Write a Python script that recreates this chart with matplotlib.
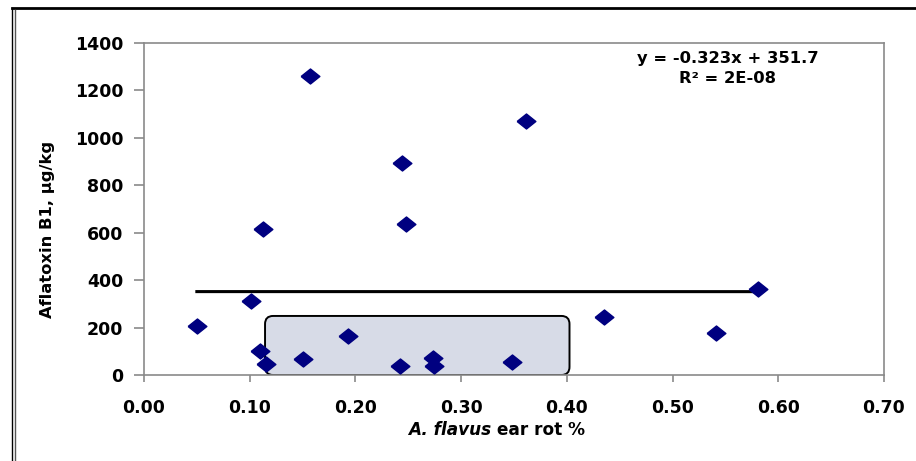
import matplotlib
matplotlib.use("Agg")
import matplotlib.pyplot as plt
import numpy as np
from matplotlib.lines import Line2D
from matplotlib.patches import FancyBboxPatch

# A. flavus ear rot % vs aflatoxin B1 (ug/kg)
ear_rot = [0.050, 0.101, 0.113, 0.110, 0.115, 0.150, 0.157, 0.193, 0.242,
           0.244, 0.248, 0.273, 0.274, 0.348, 0.361, 0.435, 0.541, 0.581]
aflatoxin = [207, 313, 617, 101, 46, 68, 1259, 165, 38,
             896, 638, 72, 38, 55, 1069, 245, 177, 363]

# linear trend shown on the chart
slope = -0.323
intercept = 351.7
r_squared_label = "R\u00b2 = 2E-08"

x_ticks = [0.0, 0.1, 0.2, 0.3, 0.4, 0.5, 0.6, 0.7]
y_ticks = [0, 200, 400, 600, 800, 1000, 1200, 1400]

plt.rcParams["font.family"] = ["DejaVu Sans"]
plt.rcParams["font.weight"] = "bold"

W, H = 916, 461
fig = plt.figure(figsize=(W / 100, H / 100), dpi=100)
ax = fig.add_axes([144 / W, 1 - 375 / H, 740 / W, 332 / H])

# highlighted region (rounded box)
box_x0, box_x1, box_y0, box_y1 = 0.1145, 0.4025, 0, 249
r = 0.0076
box = FancyBboxPatch(
    (box_x0, box_y0), box_x1 - box_x0, box_y1 - box_y0,
    boxstyle=f"round,pad=0,rounding_size={r}",
    mutation_aspect=34 / r,
    facecolor="#d7dbe7", edgecolor="black", linewidth=1.4, zorder=1,
)
ax.add_patch(box)

# trend line over the data range
xs = np.array([min(ear_rot), max(ear_rot)])
ax.plot(xs, slope * xs + intercept, color="black", linewidth=2.2, zorder=2)

diamond = [(-1, 0), (0, 0.8), (1, 0), (0, -0.8), (-1, 0)]
ax.plot(ear_rot, aflatoxin, linestyle="none", marker=diamond,
        markersize=13.5, color="#000080", zorder=3)

ax.set_xlim(0, 0.7)
ax.set_ylim(0, 1400)
ax.set_xticks(x_ticks)
ax.set_xticklabels([f"{v:.2f}" for v in x_ticks])
ax.set_yticks(y_ticks)
for s in ax.spines.values():
    s.set_color("#8a8a8a")
    s.set_linewidth(1.2)
ax.tick_params(axis="x", length=5, width=1.2, color="#8a8a8a", pad=12,
               labelsize=12.5)
ax.tick_params(axis="y", length=7, width=1.2, color="#8a8a8a", pad=8,
               labelsize=12.5)

ax.text(0.789, 0.952, f"y = {slope}x + {intercept}", transform=ax.transAxes,
        ha="center", va="center", fontsize=11.8, fontweight="bold")
ax.text(0.789, 0.892, r_squared_label, transform=ax.transAxes,
        ha="center", va="center", fontsize=11.8, fontweight="bold")

# axis titles
fig.text(48 / W, 1 - 229 / H, "Aflatoxin B1, \u03bcg/kg", rotation=90,
         ha="center", va="center", fontsize=11.8, fontweight="bold")
t1 = fig.text(408 / W, 1 - 430 / H, "A. flavus", ha="left", va="center",
              fontsize=12.2, fontweight="bold", fontstyle="italic")
ax.annotate(" ear rot %", xy=(1, 0), xycoords=t1, ha="left", va="bottom",
            fontsize=12.2, fontweight="bold", annotation_clip=False)

# outer frame (top and left only visible)
fig.add_artist(Line2D([12 / W, 1], [1 - 8 / H, 1 - 8 / H],
                      transform=fig.transFigure, color="black", linewidth=2))
fig.add_artist(Line2D([12 / W, 12 / W], [0, 1 - 8 / H],
                      transform=fig.transFigure, color="black", linewidth=1))
fig.add_artist(Line2D([15 / W, 15 / W], [0, 1 - 10 / H],
                      transform=fig.transFigure, color="#555555", linewidth=1))

fig.savefig("out.png", dpi=100)
